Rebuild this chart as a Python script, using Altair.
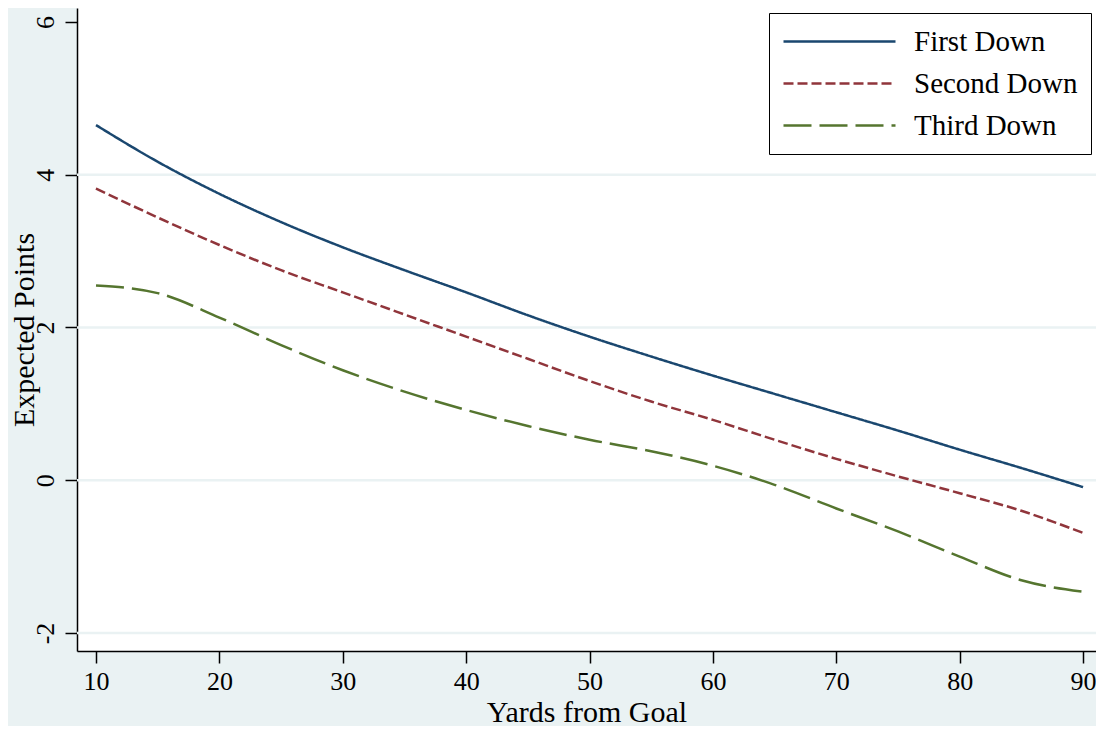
import altair as alt
import pandas as pd

yards = [10, 15, 20, 25, 30, 35, 40, 45, 50, 55, 60, 65, 70, 75, 80, 85, 90]
first_down = [4.65, 4.17, 3.75, 3.38, 3.05, 2.75, 2.46, 2.16, 1.88, 1.62, 1.37, 1.13, 0.89, 0.65, 0.40, 0.16, -0.09]
second_down = [3.82, 3.44, 3.08, 2.75, 2.46, 2.17, 1.88, 1.59, 1.30, 1.03, 0.79, 0.53, 0.28, 0.05, -0.17, -0.40, -0.69]
third_down = [2.55, 2.45, 2.13, 1.77, 1.44, 1.16, 0.92, 0.71, 0.53, 0.38, 0.19, -0.06, -0.37, -0.67, -1.00, -1.31, -1.46]
series_names = ["First Down", "Second Down", "Third Down"]
series_colors = ["#1A476F", "#90353B", "#55752F"]
series_dashes = [[1, 0], [10, 4], [28, 8]]
grid_values = [-2, 0, 2, 4]
x_ticks = [10, 20, 30, 40, 50, 60, 70, 80, 90]
y_ticks = [-2, 0, 2, 4, 6]

rows = []
for name, vals in zip(series_names, [first_down, second_down, third_down]):
    for x, v in zip(yards, vals):
        rows.append({"yards": x, "ep": v, "series": name})
df = pd.DataFrame(rows)
grid_df = pd.DataFrame({"g": grid_values})

FONT = "Liberation Serif"
xscale = alt.Scale(domain=[8.46, 91.05], nice=False, zero=False)
yscale = alt.Scale(domain=[-2.236, 6.183], nice=False, zero=False)

grid = alt.Chart(grid_df).mark_rule(color="#EAF2F3", strokeWidth=2.5).encode(
    y=alt.Y("g:Q", scale=yscale)
)

lines = alt.Chart(df).mark_line(strokeWidth=2.5, interpolate="monotone").encode(
    x=alt.X("yards:Q", scale=xscale,
            axis=alt.Axis(values=x_ticks, title="Yards from Goal", grid=False,
                          tickSize=12, labelPadding=5,
                          titleY=61, titleBaseline="middle")),
    y=alt.Y("ep:Q", scale=yscale,
            axis=alt.Axis(values=y_ticks, title="Expected Points", grid=False,
                          tickSize=12, labelPadding=12,
                          labelExpr="'' + datum.value",
                          labelAngle=270, labelAlign="center", labelBaseline="alphabetic",
                          titleX=-53, titleBaseline="middle", titleAlign="center")),
    color=alt.Color("series:N", scale=alt.Scale(domain=series_names, range=series_colors),
                    legend=alt.Legend(title=None, orient="top-right", offset=5,
                                      symbolType="M-1,0H7", symbolSize=784,
                                      symbolStrokeWidth=2.5, symbolFillColor="transparent",
                                      labelFontSize=29, labelLimit=400,
                                      labelFont=FONT, labelColor="black",
                                      labelOffset=101, rowPadding=11,
                                      fillColor="white", strokeColor="black",
                                      padding=13)),
    strokeDash=alt.StrokeDash("series:N", scale=alt.Scale(domain=series_names, range=series_dashes),
                              legend=alt.Legend(title=None)),
)

chart = alt.layer(grid, lines).properties(
    width=1019, height=643,
    autosize=alt.AutoSizeParams(type="none"),
    padding={"left": 69, "top": 0, "right": 0, "bottom": 75},
    background="#EAF2F3",
).configure_view(fill="white", stroke=None).configure_axis(
    labelFont=FONT, titleFont=FONT, labelFontSize=26, titleFontSize=30,
    labelColor="black", titleColor="black", titleFontWeight="normal",
    domainColor="black", tickColor="black", domainWidth=1.5, tickWidth=1.5,
)

chart.save("out.html", embed_options={"renderer": "svg", "actions": False})
